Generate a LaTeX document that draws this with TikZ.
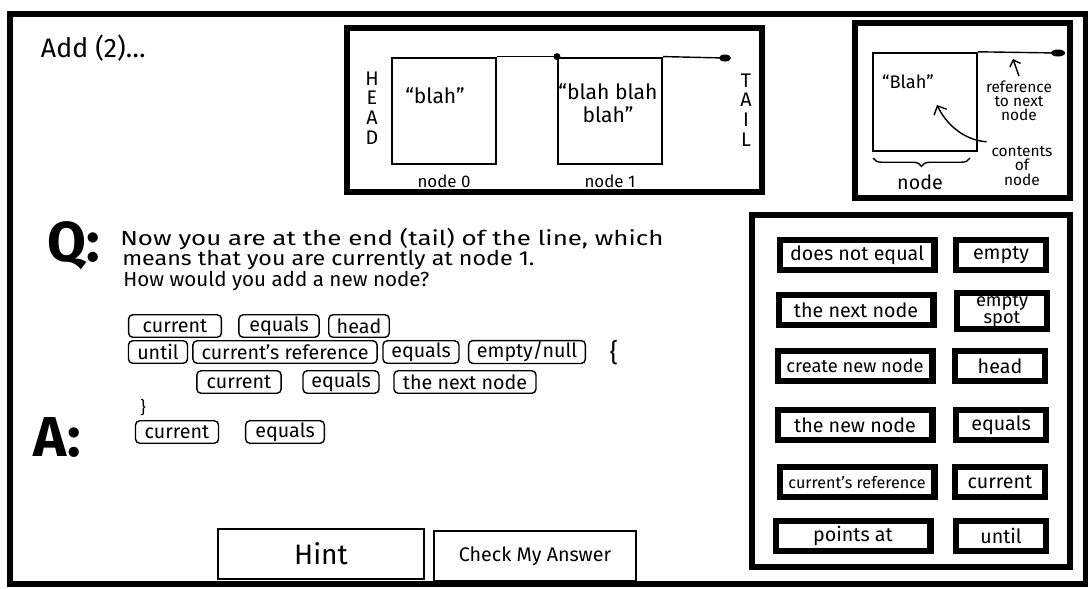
\documentclass[tikz,border=0pt]{standalone}
\usepackage{fontspec}
\usepackage{graphicx}
\setmainfont{Fira Sans}
\usetikzlibrary{positioning,decorations.pathreplacing,arrows.meta}

\tikzset{
  frame/.style={line width=4pt},
  cell/.style={draw,line width=1.4pt,minimum width=74pt,minimum height=76pt,inner sep=0pt},
  token/.style={draw,line width=1pt,rounded corners=3pt,inner sep=1pt,minimum height=16pt,minimum width=#1,font=\fontsize{14}{14}\selectfont},
  token/.default=40pt,
  tile/.style={draw,line width=4.5pt,minimum height=21pt,inner sep=1pt,font=\fontsize{14}{14}\selectfont},
  widetile/.style={tile,minimum width=110pt},
  shorttile/.style={tile,minimum width=64pt},
  button/.style={draw,line width=1.5pt,minimum height=36pt},
  big/.style={font=\fontsize{40}{40}\bfseries\selectfont},
  qline/.style={anchor=base west,inner sep=0pt,font=\fontsize{14.5}{14.5}\selectfont},
  small/.style={font=\fontsize{11}{10}\selectfont,align=center}
}

\begin{document}
\begin{tikzpicture}[x=0.025cm,y=-0.025cm]
  % Page
  \useasboundingbox (0,0) rectangle (1088,588);
  \draw[frame] (10,14) rectangle (1086,584);
  \node[anchor=base west,font=\fontsize{19}{19}\selectfont] (title) at (36,57) {Add (2)\dots};

  % Linked list
  \draw[frame] (347,28) rectangle (762,192);
  \node[cell] (n0) at (444,111) {};
  \node[cell] (n1) at (610,111) {};
  \node[font=\fontsize{15}{15}\selectfont] (t0) at (435,96) {``blah''};
  \node[font=\fontsize{15}{16}\selectfont,align=center] (t1) at (608,103) {``blah blah\\blah''};
  \node[below=3pt of n0,font=\fontsize{12}{12}\selectfont] (l0) {node 0};
  \node[below=3pt of n1,font=\fontsize{12}{12}\selectfont] (l1) {node 1};
  \node[font=\fontsize{14}{14}\selectfont,align=center] (head) at (372,108) {H\\E\\A\\D};
  \node[font=\fontsize{14}{14}\selectfont,align=center] (tail) at (746,110) {T\\A\\I\\L};
  \coordinate (tailref) at (725,58);
  \draw[line width=1pt] (n0.north east) -- (n1.north west);
  \fill (n1.north west) circle (3.5);
  \draw[line width=1pt] (n1.north east) -- (tailref);
  \fill (tailref) ellipse (6 and 3.5);

  % Legend
  \draw[frame] (855,23) rectangle (1070,198);
  \node[cell,minimum height=70pt] (ln) at (925,102) {};
  \node[font=\fontsize{13}{13}\selectfont] (lt) at (908,82) {``Blah''};
  \coordinate (lref) at (1058,53);
  \draw[line width=1pt] (ln.north east) -- (lref);
  \fill (lref) ellipse (7 and 3.5);
  \node[small] (reflabel) at (1019,101) {reference\\to next\\node};
  \coordinate (refpt) at (1013,59);
  \draw[line width=1pt,-{Straight Barb[length=4pt]}] (reflabel.north) -- (refpt);
  \node[small] (contlabel) at (1022,166) {contents\\of\\node};
  \coordinate (blahpt) at (937,105);
  \draw[line width=1pt,-{Straight Barb[length=5pt]}] (contlabel.north west) .. controls (962,140) and (945,122) .. (blahpt);
  \draw[line width=1pt,decorate,decoration={brace,mirror,amplitude=6pt}] (873,158) -- (970,158);
  \node[font=\fontsize{14}{14}\selectfont] (lnode) at (920,182) {node};

  % Question
  \node[big] (q) at (74,246) {Q:};
  \node[qline] (q1) at (120,245) {\scalebox{1.27}[1]{Now you are at the end (tail) of the line, which}};
  \node[qline] (q2) at (122,265) {\scalebox{1.14}[1]{means that you are currently at node 1.}};
  \node[qline] (q3) at (123,286) {\scalebox{1.01}[1]{How would you add a new node?}};

  % Code tokens
  \node[token=66pt] (c1) at (175,326) {current};
  \node[token=57pt] (e1) at (279,326) {equals};
  \node[token=43pt] (h1) at (359,326) {head};
  \node[token=42pt] (u2) at (158,352) {until};
  \node[token=131pt] (r2) at (285,352) {current's reference};
  \node[token=54pt] (e2) at (421,352) {equals};
  \node[token=83pt] (m2) at (527,352) {empty/null};
  \node[font=\fontsize{18}{18}\selectfont] (open) at (614,353) {\{};
  \node[token=60pt] (c3) at (239,382) {current};
  \node[token=54pt] (e3) at (341,382) {equals};
  \node[token=101pt] (x3) at (465,382) {the next node};
  \node[font=\fontsize{12}{12}\selectfont] (close) at (143,408) {\}};

  % Answer
  \node[big] (a) at (57,437) {A:};
  \node[token=59pt] (ca) at (177,432) {current};
  \node[token=56pt] (ea) at (285,432) {equals};

  % Buttons
  \node[button,minimum width=146pt,font=\fontsize{20}{20}\selectfont] (hint) at (321,554) {Hint};
  \node[button,minimum width=144pt,font=\fontsize{14}{14}\selectfont] (check) at (535,556) {Check My Answer};

  % Word bank
  \draw[frame] (752,215) rectangle (1070,567);
  \node[widetile] (w1) at (857,255) {does not equal};
  \node[shorttile] (v1) at (1001,255) {empty};
  \node[widetile] (w2) at (856,310) {the next node};
  \node[shorttile,font=\fontsize{13}{10}\selectfont,align=center] (v2) at (1002,311) {empty\\spot};
  \node[widetile,font=\fontsize{13}{13}\selectfont] (w3) at (855,366) {create new node};
  \node[shorttile] (v3) at (1000,366) {head};
  \node[widetile] (w4) at (855,425) {the new node};
  \node[shorttile] (v4) at (1001,425) {equals};
  \node[widetile,font=\fontsize{11.5}{11.5}\selectfont] (w5) at (857,482) {current's reference};
  \node[shorttile] (v5) at (1000,482) {current};
  \node[widetile] (w6) at (853,536) {points at};
  \node[shorttile] (v6) at (1001,536) {until};
\end{tikzpicture}
\end{document}
